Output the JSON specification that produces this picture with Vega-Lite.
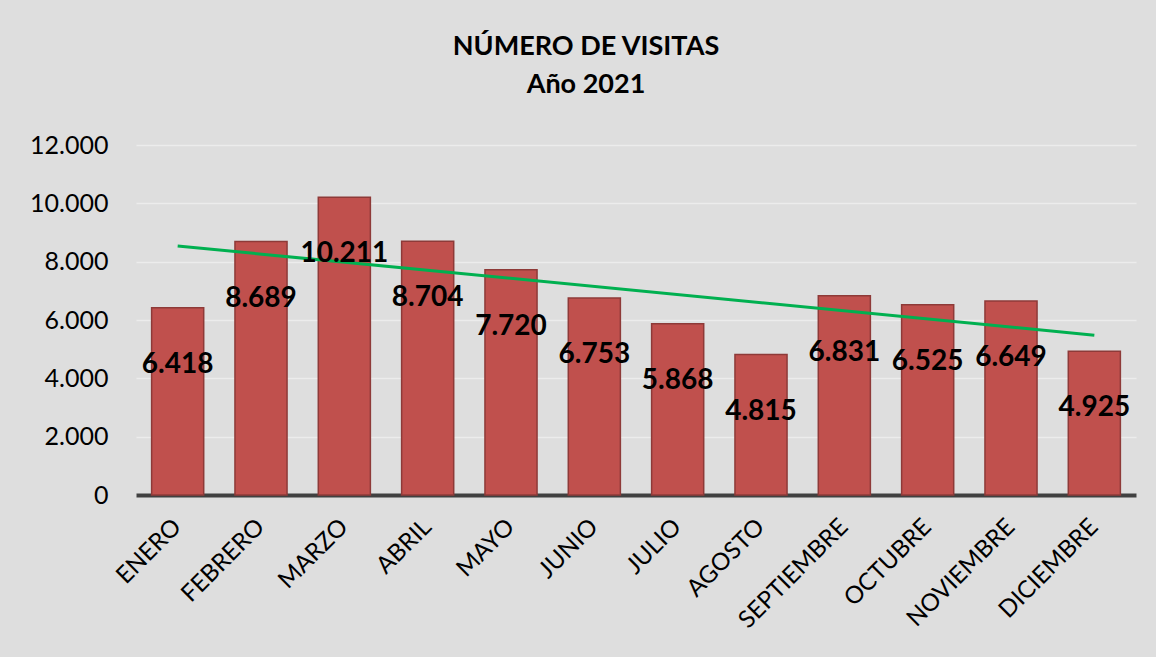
{
  "$schema": "https://vega.github.io/schema/vega-lite/v6.json",
  "width": 1000,
  "height": 350,
  "autosize": {"type": "none"},
  "padding": {"left": 136, "top": 145, "right": 20, "bottom": 162},
  "background": "#dedede",
  "config": {
    "locale": {"number": {"decimal": ",", "thousands": ".", "grouping": [3], "currency": ["", " €"]}},
    "view": {"stroke": null},
    "font": "Lato"
  },
  "title": {
    "text": ["NÚMERO DE VISITAS", "Año 2021"],
    "font": "Lato",
    "fontSize": 27,
    "fontWeight": "bold",
    "color": "#000000",
    "lineHeight": 38,
    "anchor": "middle",
    "dx": -50,
    "offset": 34
  },
  "datasets": {
    "visitas": [
      {"mes": 1, "mes_nombre": "ENERO", "visitas": 6418},
      {"mes": 2, "mes_nombre": "FEBRERO", "visitas": 8689},
      {"mes": 3, "mes_nombre": "MARZO", "visitas": 10211},
      {"mes": 4, "mes_nombre": "ABRIL", "visitas": 8704},
      {"mes": 5, "mes_nombre": "MAYO", "visitas": 7720},
      {"mes": 6, "mes_nombre": "JUNIO", "visitas": 6753},
      {"mes": 7, "mes_nombre": "JULIO", "visitas": 5868},
      {"mes": 8, "mes_nombre": "AGOSTO", "visitas": 4815},
      {"mes": 9, "mes_nombre": "SEPTIEMBRE", "visitas": 6831},
      {"mes": 10, "mes_nombre": "OCTUBRE", "visitas": 6525},
      {"mes": 11, "mes_nombre": "NOVIEMBRE", "visitas": 6649},
      {"mes": 12, "mes_nombre": "DICIEMBRE", "visitas": 4925}
    ]
  },
  "data": {"name": "visitas"},
  "resolve": {"scale": {"x": "independent"}},
  "layer": [
    {
      "mark": {"type": "bar", "fill": "#C0504D", "stroke": "#8E3A38", "strokeWidth": 1.5},
      "encoding": {
        "x": {
          "field": "mes_nombre", "type": "nominal", "sort": null,
          "scale": {"paddingInner": 0.375, "paddingOuter": 0.1875},
          "axis": {
            "title": null, "labelAngle": -45, "labelAlign": "right", "labelBaseline": "middle",
            "labelFontSize": 24, "labelColor": "#000000", "labelFont": "Lato",
            "labelPadding": 28, "ticks": false, "domainColor": "#404040", "domainWidth": 4
          }
        },
        "y": {
          "field": "visitas", "type": "quantitative",
          "scale": {"domain": [0, 12000]},
          "axis": {
            "title": null, "values": [0, 2000, 4000, 6000, 8000, 10000, 12000], "format": ",d",
            "labelFontSize": 25, "labelColor": "#000000", "labelFont": "Lato", "labelPadding": 28,
            "ticks": false, "domain": false, "grid": true, "gridColor": "#ececec", "gridWidth": 1.5
          }
        }
      }
    },
    {
      "transform": [{"regression": "visitas", "on": "mes", "extent": [1, 12]}],
      "mark": {"type": "line", "color": "#00B050", "strokeWidth": 3},
      "encoding": {
        "x": {"field": "mes", "type": "quantitative", "scale": {"domain": [0.5, 12.5], "nice": false, "zero": false}, "axis": null},
        "y": {"field": "visitas", "type": "quantitative"}
      }
    },
    {
      "mark": {"type": "text", "fontSize": 28, "fontWeight": "bold", "font": "Lato", "color": "#000000", "baseline": "middle", "align": "center", "dy": 57},
      "encoding": {
        "x": {"field": "mes_nombre", "type": "nominal", "sort": null, "axis": null},
        "y": {"field": "visitas", "type": "quantitative"},
        "text": {"field": "visitas", "type": "quantitative", "format": ",d"}
      }
    }
  ]
}
